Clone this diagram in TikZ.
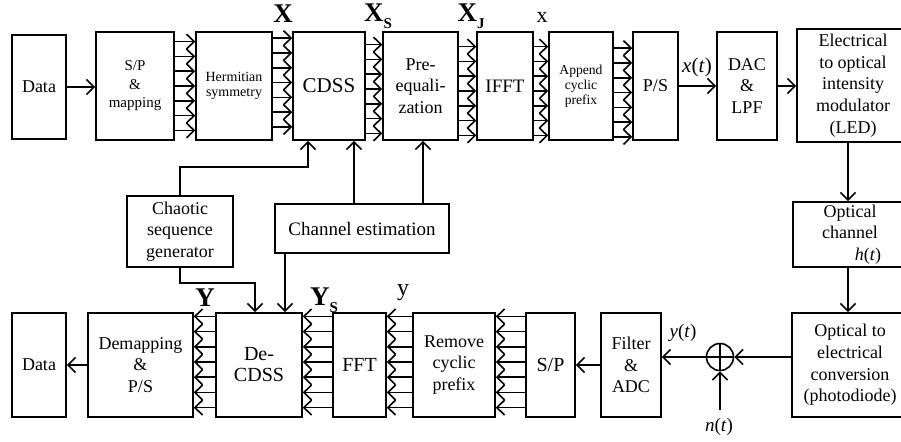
\documentclass[tikz,border=0pt]{standalone}
\usepackage{fontspec}
\setmainfont{Liberation Serif}
\usetikzlibrary{arrows.meta,calc}

\begin{document}
\begin{tikzpicture}[x=0.5pt,y=0.5pt,>={Straight Barb[length=3.8pt,width=7.5pt]},line width=0.8pt]
  \tikzstyle{box}=[draw, rectangle, inner sep=1pt, align=center, font=\fontsize{9}{10.8}\selectfont]
  \tikzstyle{topbox}=[box, minimum height=54pt]
  \tikzstyle{botbox}=[box, minimum height=52pt]
  \tikzstyle{vec}=[font=\fontsize{13.5}{14}\selectfont\bfseries, inner sep=0pt]
  \tikzstyle{sig}=[font=\fontsize{9.5}{10}\selectfont, inner sep=0pt]
  \useasboundingbox (0,0) rectangle (901,-441);

  % transmitter
  \node[box, minimum width=27pt, minimum height=52pt] (data1) at (39,-87) {Data};
  \node[topbox, minimum width=39pt, font=\fontsize{7.5}{9.3}\selectfont] (sp) at (135,-86) {S/P\\\&\\mapping};
  \node[topbox, minimum width=38pt, font=\fontsize{7}{7.8}\selectfont] (herm) at (234,-86) {Hermitian\\symmetry};
  \node[topbox, minimum width=36pt, font=\fontsize{10.5}{12}\selectfont] (cdss) at (329,-86) {CDSS};
  \node[topbox, minimum width=37.5pt] (preeq) at (420.5,-86) {Pre-\\equali-\\zation};
  \node[topbox, minimum width=28pt, font=\fontsize{9.5}{11}\selectfont] (ifft) at (505,-86) {IFFT};
  \node[topbox, minimum width=32pt, font=\fontsize{6.8}{7.6}\selectfont] (acp) at (581,-86) {Append\\cyclic\\prefix};
  \node[topbox, minimum width=22.5pt] (ps) at (655.5,-86) {P/S};
  \node[topbox, minimum width=30pt] (dac) at (747,-86) {DAC\\\&\\LPF};
  \node[box, minimum width=56pt, minimum height=56.5pt] (led) at (853,-85.5) {Electrical\\to optical\\intensity\\modulator\\(LED)};

  % side blocks
  \node[box, minimum width=53pt, minimum height=35.5pt] (chaos) at (180,-231.5) {Chaotic\\sequence\\generator};
  \node[box, minimum width=87pt, minimum height=24.5pt, font=\fontsize{9.5}{11}\selectfont] (chest) at (362,-228.5) {Channel estimation};
  \node[box, minimum width=57pt, minimum height=32.5pt] (och) at (850,-234.5) {Optical\\channel\\\hspace{18pt}\textit{h}(\textit{t})};

  % receiver
  \node[botbox, minimum width=27pt] (data2) at (39,-365) {Data};
  \node[botbox, minimum width=52.5pt] (demap) at (140.5,-365) {Demapping\\\&\\P/S};
  \node[botbox, minimum width=43pt, font=\fontsize{10}{10.5}\selectfont] (decdss) at (259,-365) {De-\\CDSS};
  \node[botbox, minimum width=26.5pt, font=\fontsize{10}{11}\selectfont] (fft) at (359.5,-365) {FFT};
  \node[botbox, minimum width=41pt] (rcp) at (454,-365) {Remove\\cyclic\\prefix};
  \node[botbox, minimum width=24.5pt, font=\fontsize{10}{11}\selectfont] (sp2) at (550.5,-365) {S/P};
  \node[botbox, minimum width=30pt] (fadc) at (631,-365) {Filter\\\&\\ADC};
  \node[botbox, minimum width=58pt] (oe) at (850,-365) {Optical to\\electrical\\conversion\\(photodiode)};
  \node[draw, circle, minimum size=13.5pt, inner sep=0pt] (sum) at (720,-357) {};
  \draw (sum.north) -- (sum.south) (sum.west) -- (sum.east);

  % labels
  \node[vec] (lblX) at (283,-14) {X};
  \node[vec] (lblXs) at (378,-16) {X\raisebox{-3.5pt}{\fontsize{7.5}{8}\selectfont S}};
  \node[vec] (lblXj) at (471,-16) {X\raisebox{-3.5pt}{\fontsize{7.5}{8}\selectfont J}};
  \node[font=\fontsize{11}{12}\selectfont, inner sep=0pt] (lblx) at (542,-17) {x};
  \node[vec] (lblY) at (205,-298) {Y};
  \node[vec] (lblYs) at (324,-300) {Y\raisebox{-3.5pt}{\fontsize{7.5}{8}\selectfont S}};
  \node[font=\fontsize{12}{12}\selectfont, inner sep=0pt] (lbly) at (403,-293) {y};
  \node[font=\fontsize{10.5}{11}\selectfont, inner sep=0pt] (lblxt) at (697,-67) {\textit{x}(\textit{t})};
  \node[sig] (lblyt) at (683,-333) {\textit{y}(\textit{t})};
  \node[sig] (lblnt) at (719,-427) {\textit{n}(\textit{t})};
  \coordinate (nt) at (720,-410);

  % serial links
  \draw[->] (data1.east) -- (data1.east -| sp.west);
  \draw[->] (ps.east) -- (ps.east -| dac.west);
  \draw[->] (dac.east) -- (dac.east -| led.west);
  \draw[->] ($(led.south)+(-5,0)$) -- ($(och.north)+(-2,0)$);
  \draw[->] ($(och.south)+(-2,0)$) -- ($(oe.north)+(-2,0)$);
  \draw[->] (sum -| oe.west) -- (sum.east);
  \draw[->] (sum.west) -- (sum -| fadc.east);
  \draw[->] (nt) -- (sum.south);
  \draw[->] (fadc.west) -- (fadc.west -| sp2.east);
  \draw[->] (demap.west) -- (demap.west -| data2.east);

  % parallel links
  \foreach \a/\b/\s in {sp/herm/0, herm/cdss/3.5, cdss/preeq/-3, preeq/ifft/-5, ifft/acp/-5, acp/ps/-6.5}
    \foreach \k in {-3,...,3}
      \draw[->] ($(\a.east)+(0,\k*14.8+\s)$) -- ($(\b.west)+(0,\k*14.8+\s)$);
  \foreach \a/\b in {demap/decdss, decdss/fft, fft/rcp, rcp/sp2}
    \foreach \k in {-3,...,3}
      \draw[->] ($(\b.west)+(0,\k*15.2+3)$) -- ($(\a.east)+(0,\k*15.2+3)$);

  % control links
  \coordinate (c1) at (308,-167);
  \coordinate (c2) at (255,-283);
  \coordinate (e1) at ($(chest.north)+(-8,0)$);
  \coordinate (e2) at ($(chest.north)+(61,0)$);
  \coordinate (e3) at ($(chest.south)+(-77,0)$);
  \draw[->] (chaos.north) |- (c1) -- (c1 |- cdss.south);
  \draw[->] (chaos.south) |- (c2) -- (c2 |- decdss.north);
  \draw[->] (e1) -- (e1 |- cdss.south);
  \draw[->] (e2) -- (e2 |- preeq.south);
  \draw[->] (e3) -- (e3 |- decdss.north);
\end{tikzpicture}
\end{document}
